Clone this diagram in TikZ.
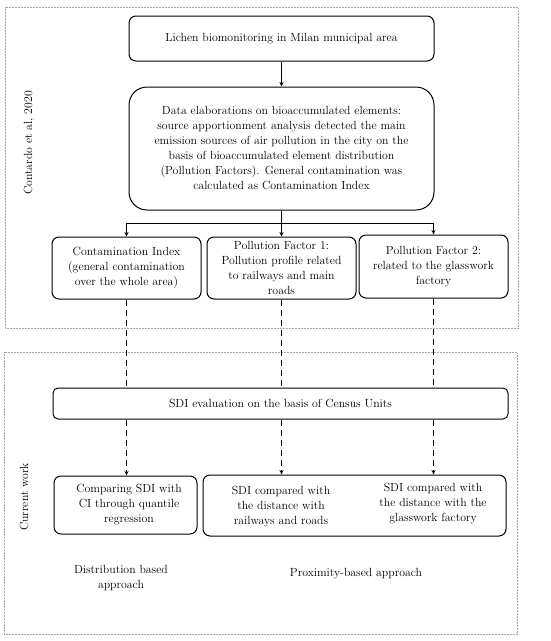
\documentclass[tikz,border=0pt]{standalone}
\usetikzlibrary{arrows.meta}
\begin{document}
\begin{tikzpicture}[x=1pt,y=-1pt,
  frame/.style={draw=gray!70,densely dotted,line width=0.5pt},
  box/.style={draw,line width=1pt,rounded corners=7pt,align=center,inner sep=2pt,font=\fontsize{11.8}{15}\selectfont},
  txt/.style={align=center,font=\fontsize{11.8}{15}\selectfont},
  arr/.style={line width=1pt,-{Stealth[length=4.5pt,width=4pt]}},
  dsh/.style={line width=1pt,dash pattern=on 6pt off 4pt}]
\useasboundingbox (0,0) rectangle (550,641);
% frames
\draw[frame] (5,7) rectangle (518,328);
\draw[frame] (4,352) rectangle (517,634);
\node[txt,rotate=90] (lab1) at (29,143) {Contardo et al, 2020};
\node[txt,rotate=90] (lab2) at (24,497) {Current work};
% boxes
\node[box,minimum width=305pt,minimum height=45pt] (b1) at (281.5,38.5) {Lichen biomonitoring in Milan municipal area};
\node[box,rounded corners=18pt,minimum width=305pt,minimum height=123pt] (b2) at (281.5,148.5)
 {Data elaborations on bioaccumulated elements:\\ source apportionment analysis detected the main\\ emission sources of air pollution in the city on the\\ basis of bioaccumulated element distribution\\ (Pollution Factors). General contamination was\\ calculated as Contamination Index};
\node[box,minimum width=149pt,minimum height=62pt] (ci) at (126.5,268) {Contamination Index\\ (general contamination\\ over the whole area)};
\node[box,minimum width=149pt,minimum height=62pt] (pf1) at (281.5,268) {Pollution Factor 1:\\ Pollution profile related\\ to railways and main\\ roads};
\node[box,minimum width=149pt,minimum height=63pt] (pf2) at (433.5,266.5) {Pollution Factor 2:\\ related to the glasswork\\ factory};
\node[box,rounded corners=5pt,minimum width=455pt,minimum height=31pt] (sdi) at (280.5,403.5) {SDI evaluation on the basis of Census Units};
\node[box,minimum width=143pt,minimum height=58pt] (cmp) at (125.5,505) {};
\node[txt] (cmpt) at (129,505) {Comparing SDI with\\ CI through quantile\\ regression};
\node[box,minimum width=303pt,minimum height=61pt] (prx) at (354.5,505.5) {};
\node[txt] (p1) at (281,507) {SDI compared with\\ the distance with\\ railways and roads};
\node[txt] (p2) at (433,504) {SDI compared with\\ the distance with the\\ glasswork factory};
\node[txt] (a1) at (121,578) {Distribution based\\ approach};
\node[txt] (a2) at (356,574) {Proximity-based approach};
% connectors
\draw[arr] (b1.south) -- (b2.north);
\coordinate (j) at (281.5,223);
\draw[line width=1pt] (b2.south) -- (j);
\draw[arr] (j) -| (ci.north);
\draw[arr] (j) -| (pf2.north);
\draw[arr] (j) -- (pf1.north);
\draw[dsh] (ci.south) -- (ci.south |- sdi.north);
\draw[dsh] (pf1.south) -- (pf1.south |- sdi.north);
\draw[dsh] (pf2.south) -- (pf2.south |- sdi.north);
\draw[dsh,-{Stealth[length=4.5pt,width=4pt]}] (ci.south |- sdi.south) -- (ci.south |- cmp.north);
\draw[dsh,-{Stealth[length=4.5pt,width=4pt]}] (pf1.south |- sdi.south) -- (pf1.south |- prx.north);
\draw[dsh,-{Stealth[length=4.5pt,width=4pt]}] (pf2.south |- sdi.south) -- (pf2.south |- prx.north);
\end{tikzpicture}
\end{document}
